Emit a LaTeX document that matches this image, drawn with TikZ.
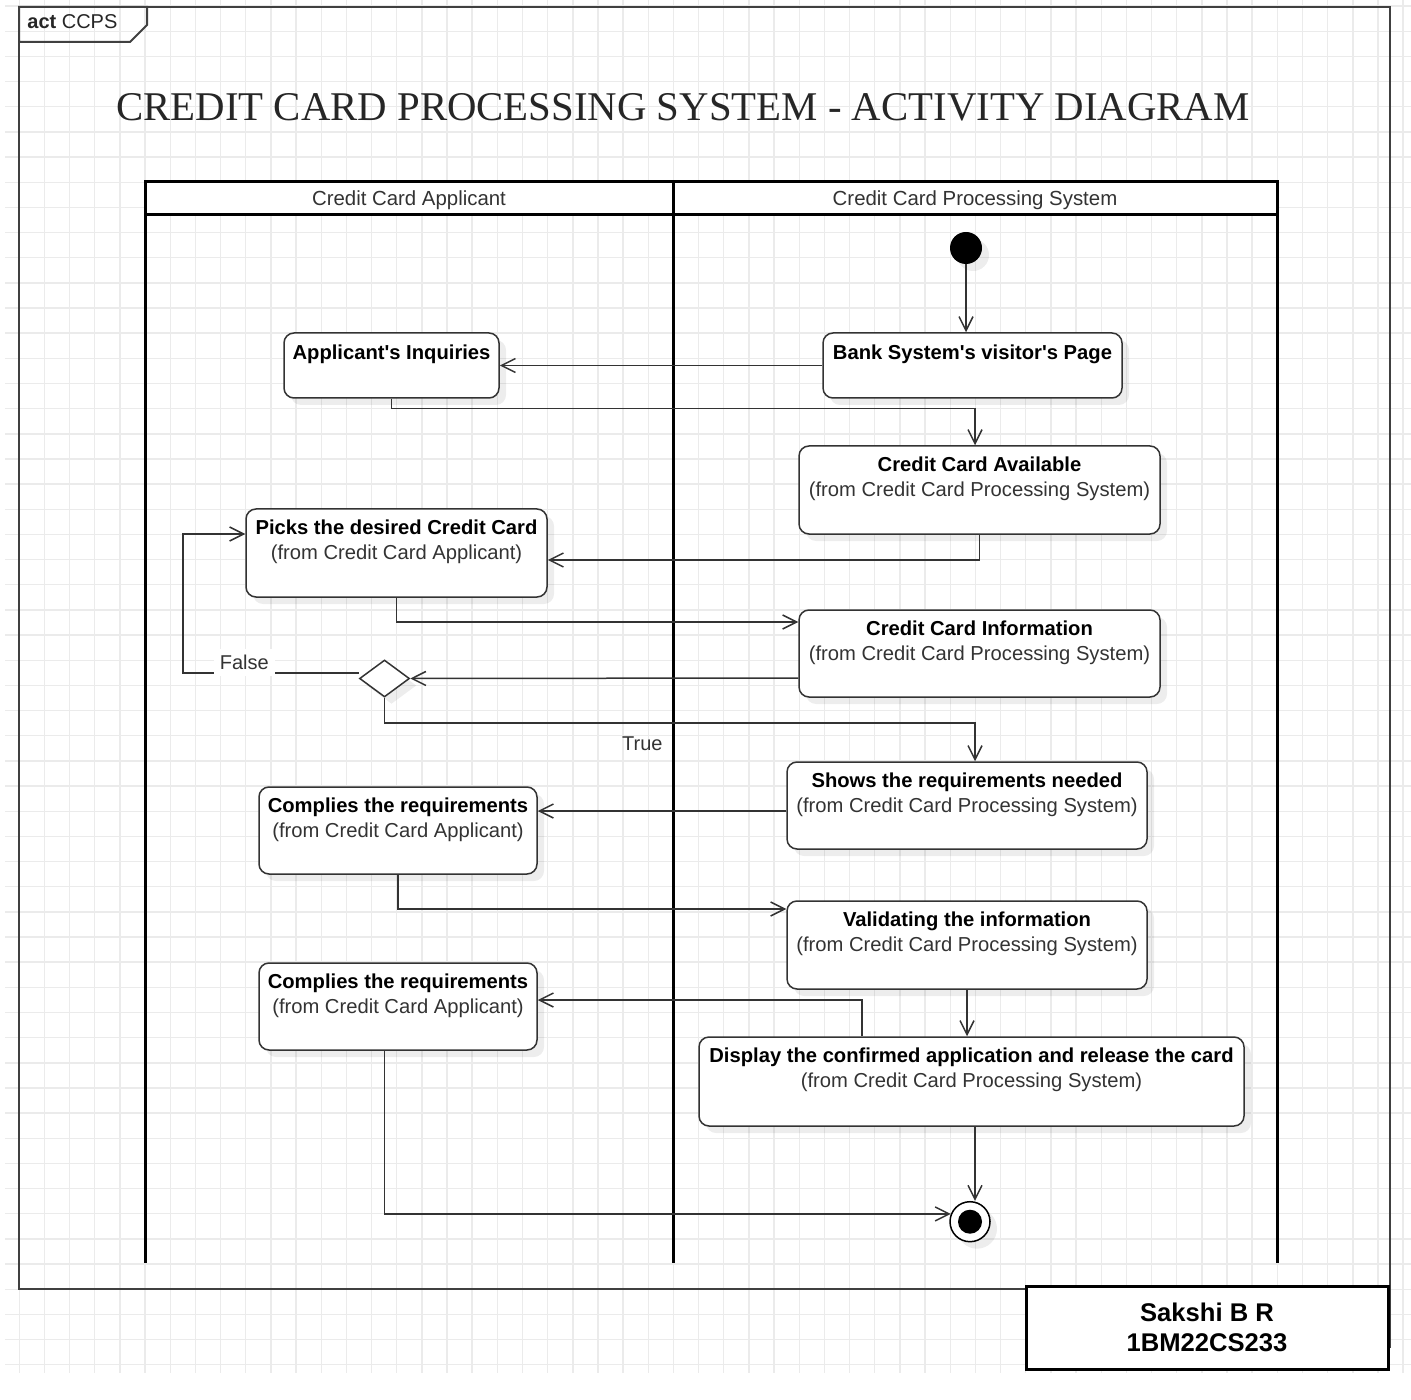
\documentclass[tikz,border=0pt]{standalone}
\usepackage{fontspec}
\setmainfont{Liberation Sans}
\newfontfamily\titlefont{Liberation Serif}
\usetikzlibrary{shapes.geometric, arrows.meta, positioning, fit, calc, shadows}

\definecolor{gridgray}{HTML}{EBEBEB}
\definecolor{inkgray}{HTML}{333333}

\tikzset{
  gridline/.style={gridgray, line width=0.7pt},
  framed/.style={draw=black!75, line width=1pt},
  lane/.style={draw=black, line width=1.5pt},
  softshadow/.style={drop shadow={shadow xshift=3.5pt, shadow yshift=-3.5pt, fill=black, opacity=0.07}},
  act/.style={draw=inkgray, line width=0.75pt, rounded corners=5pt, fill=white, inner sep=0pt, softshadow},
  acttext/.style={align=center, font=\fontsize{10.1}{12.35}\selectfont, inner sep=0pt, anchor=base},
  decision/.style={diamond, draw=inkgray, line width=0.75pt, fill=white, minimum width=25pt, minimum height=18.5pt, inner sep=0pt, softshadow},
  initial/.style={circle, fill=black, minimum size=16pt, inner sep=0pt, softshadow},
  final/.style={circle, draw=black, line width=0.75pt, fill=white, minimum size=20pt, inner sep=0pt, softshadow,
    path picture={\fill[black] (path picture bounding box.center) circle (6pt);}},
  flow/.style={draw=inkgray, line width=0.75pt, -{Straight Barb[length=7pt, width=7pt]}},
  guard/.style={font=\fontsize{10}{12}\selectfont, text=inkgray},
  lanehead/.style={font=\fontsize{10.2}{12}\selectfont, text=inkgray},
  namebox/.style={draw=black, line width=1.5pt, fill=white, inner sep=0pt, align=center,
    minimum width=181pt, minimum height=41.5pt, font=\bfseries\fontsize{12.8}{14.7}\selectfont},
}

\begin{document}
\begin{tikzpicture}[x=0.5pt, y=-0.5pt]
\useasboundingbox (0,0) rectangle (1411,1400);
% grid
\foreach \k in {0,...,55} \draw[gridline] ({19.3+25.16*\k},0) -- ({19.3+25.16*\k},1373);
\foreach \k in {0,...,54} \draw[gridline] (5,{6.1+25.16*\k}) -- (1411,{6.1+25.16*\k});

% frame
\draw[framed] (19,7) rectangle (1390,1289);
\draw[framed] (1390,1289) -- (1390,1348);
\draw[framed] (19,7) -- (147,7) -- (147,25) -- (130,42) -- (19,42) -- cycle;
\node[anchor=base west, inner sep=0pt, font=\fontsize{10}{12}\selectfont, text=black!85] (tab) at (27,29) {\textbf{act} CCPS};

\node[font=\titlefont\fontsize{20.4}{24}\selectfont, text=black!85] (title) at (683,107) {CREDIT CARD PROCESSING SYSTEM - ACTIVITY DIAGRAM};

% swimlanes
\draw[lane, fill=white] (145,182) rectangle (1277,215);
\draw[lane] (673,182) -- (673,1263);
\draw[lane] (145,215) -- (145,1263);
\draw[lane] (1277,215) -- (1277,1263);
\node[lanehead] (laneA) at (409,200) {Credit Card Applicant};
\node[lanehead] (laneB) at (975,200) {Credit Card Processing System};

% activities
\node[initial] (init) at (966,248) {};
\node[act, fit={(823,333) (1122,398)}] (bank) {};
\node[acttext] (bankT) at ([yshift=-13.8pt]bank.north) {\textbf{Bank System\textquotesingle s visitor\textquotesingle s Page}};
\node[act, fit={(284,333) (499,398)}] (appl) {};
\node[acttext] (applT) at ([yshift=-13.8pt]appl.north) {\textbf{Applicant\textquotesingle s Inquiries}};
\node[act, fit={(799,446) (1160,534)}] (cca) {};
\node[acttext] (ccaT) at ([yshift=-25.5pt]cca.north) {\textbf{Credit Card Available}\\\textcolor{inkgray}{(from Credit Card Processing System)}};
\node[act, fit={(246,509) (547,597)}] (picks) {};
\node[acttext] (picksT) at ([yshift=-25.5pt]picks.north) {\textbf{Picks the desired Credit Card}\\\textcolor{inkgray}{(from Credit Card Applicant)}};
\node[act, fit={(799,610) (1160,697)}] (cci) {};
\node[acttext] (cciT) at ([yshift=-25.5pt]cci.north) {\textbf{Credit Card Information}\\\textcolor{inkgray}{(from Credit Card Processing System)}};
\node[decision] (dec) at (384.5,678.5) {};
\node[act, fit={(787,762) (1147,849)}] (shows) {};
\node[acttext] (showsT) at ([yshift=-25.5pt]shows.north) {\textbf{Shows the requirements needed}\\\textcolor{inkgray}{(from Credit Card Processing System)}};
\node[act, fit={(259,787) (537,874)}] (comp1) {};
\node[acttext] (comp1T) at ([yshift=-25.5pt]comp1.north) {\textbf{Complies the requirements}\\\textcolor{inkgray}{(from Credit Card Applicant)}};
\node[act, fit={(787,901) (1147,989)}] (valid) {};
\node[acttext] (validT) at ([yshift=-25.5pt]valid.north) {\textbf{Validating the information}\\\textcolor{inkgray}{(from Credit Card Processing System)}};
\node[act, fit={(259,963) (537,1050)}] (comp2) {};
\node[acttext] (comp2T) at ([yshift=-25.5pt]comp2.north) {\textbf{Complies the requirements}\\\textcolor{inkgray}{(from Credit Card Applicant)}};
\node[act, fit={(699,1037) (1244,1126)}] (disp) {};
\node[acttext] (dispT) at ([yshift=-25.5pt]disp.north) {\textbf{Display the confirmed application and release the card}\\\textcolor{inkgray}{(from Credit Card Processing System)}};
\node[final] (fin) at (970,1221.7) {};

% flows
\draw[flow] (init) -- (init |- bank.north);
\draw[flow] (bank.west) -- (appl.east);
\draw[flow] (appl.south) -- ++(0,10) -| ([xshift=-2.25pt]cca.north);
\draw[flow] (cca.south) |- ([yshift=-3.5pt]picks.east);
\draw[flow] (picks.south) |- ([yshift=15.75pt]cci.west);
\draw[flow] ([yshift=-12.25pt]cci.west) -- (dec.east);
\draw[flow] ([yshift=2.75pt]dec.west) -- node[guard, pos=0.65, anchor=base, yshift=1.75pt, fill=white, inner sep=3pt] (falseL) {False} ++(-176,0) |- ([yshift=9.5pt]picks.west);
\draw[flow] (dec.south) -- ++(0,25) -| ([xshift=4pt]shows.north);
\node[guard, anchor=east, inner sep=1pt] (trueL) at (665,744) {True};
\draw[flow] ([yshift=-2.75pt]shows.west) -- ([yshift=9.75pt]comp1.east);
\draw[flow] (comp1.south) |- ([yshift=18pt]valid.west);
\draw[flow] (valid.south) -- (valid.south |- disp.north);
\draw[flow] ([xshift=-54.75pt]disp.north) |- ([yshift=3.25pt]comp2.east);
\draw[flow] ([xshift=-6.65pt]comp2.south) |- (fin.158);
\draw[flow] ([xshift=1.75pt]disp.south) -- ([xshift=1.75pt]disp.south |- fin.north);

% name box
\node[namebox] (author) at (1207,1327.5) {Sakshi B R\\1BM22CS233};
\end{tikzpicture}
\end{document}
